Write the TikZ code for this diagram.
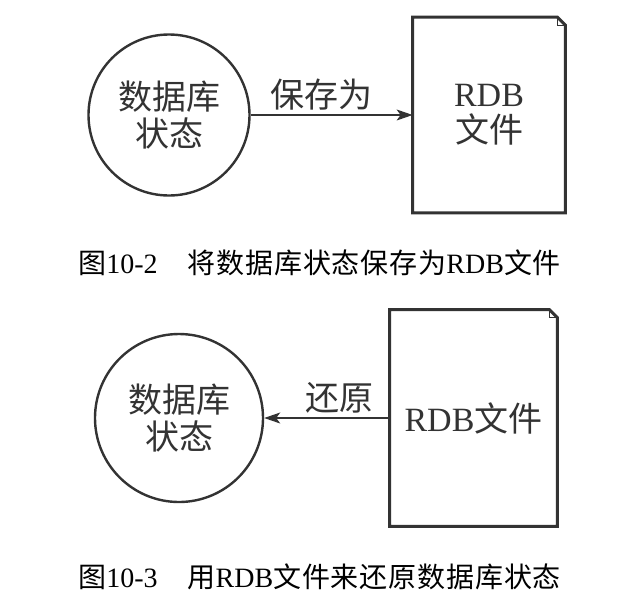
\documentclass[tikz,border=0pt]{standalone}
\usepackage{fontspec}
\setmainfont{Liberation Serif}
\newfontfamily\cjk{Noto Sans CJK SC}
\newfontfamily\capcjk[LetterSpace=3]{Noto Sans CJK SC}
\usetikzlibrary{arrows.meta}
\definecolor{ink}{HTML}{333333}
\tikzset{
  dbstate/.style={circle,draw=ink,line width=1.2pt,inner sep=0pt,align=center,
    text=ink,font=\fontsize{17pt}{18.5pt}\selectfont\cjk},
  rdbfile/.style={inner sep=0pt,align=center,text=ink,
    font=\fontsize{17pt}{18pt}\selectfont},
  flow/.style={draw=ink,line width=0.6pt,-{Stealth[length=8pt,width=5.5pt,inset=2pt]}},
  flowlabel/.style={text=ink,inner sep=2pt,font=\fontsize{17pt}{19pt}\selectfont\cjk},
  caption/.style={anchor=west,inner sep=0pt,font=\fontsize{14pt}{16pt}\selectfont}
}
\begin{document}
\begin{tikzpicture}[x=0.5pt,y=-0.5pt]
  \useasboundingbox[fill=white] (0,0) rectangle (640,594);
  % save
  \node[dbstate,minimum size=80.5pt] (state1) at (169,115) {数据库\\状态};
  \node[rdbfile,minimum width=76pt,minimum height=97.5pt] (rdb1) at (489,115) {RDB\\{\cjk 文件}};
  \draw[flow] (state1) -- (rdb1) node[flowlabel,pos=0.44,above] (save) {保存为};
  \node[caption] (cap1) at (78,263) {{\capcjk 图}10-2\hspace{15pt}{\capcjk 将数据库状态保存为}RDB{\capcjk 文件}};
  % restore
  \node[dbstate,minimum size=84pt] (state2) at (179,418) {数据库\\状态};
  \node[rdbfile,minimum width=83.5pt,minimum height=108pt] (rdb2) at (473.5,418) {RDB{\cjk 文件}};
  \draw[flow] (rdb2) -- (state2) node[flowlabel,pos=0.4,above] (restore) {还原};
  \node[caption] (cap2) at (78,577) {{\capcjk 图}10-3\hspace{15pt}{\capcjk 用}RDB{\capcjk 文件来还原数据库状态}};
  % folded corners
  \foreach \f in {rdb1,rdb2}{
    \draw[ink,line width=1.5pt,line join=miter] (\f.south west) -- (\f.north west)
      -- ([xshift=-4pt]\f.north east) -- ([yshift=-4pt]\f.north east) -- (\f.south east) -- cycle;
    \draw[ink,line width=0.6pt] ([xshift=-4pt]\f.north east) -- ([xshift=-4pt,yshift=-4pt]\f.north east)
      -- ([yshift=-4pt]\f.north east);
  }
\end{tikzpicture}
\end{document}
